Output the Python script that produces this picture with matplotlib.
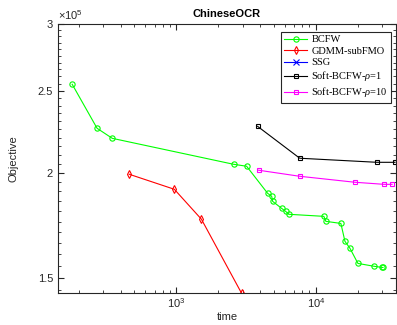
import matplotlib
matplotlib.use("Agg")
import matplotlib.pyplot as plt
import numpy as np
from matplotlib.ticker import FixedLocator, FuncFormatter, LogLocator, NullFormatter

plt.rcParams['font.family'] = ['Liberation Sans', 'DejaVu Sans']
plt.rcParams['mathtext.fontset'] = 'custom'
plt.rcParams['mathtext.rm'] = 'Liberation Sans'
plt.rcParams['mathtext.it'] = 'Liberation Serif:italic'
plt.rcParams['mathtext.bf'] = 'Liberation Sans:bold'

bcfw_t = [179, 270, 347, 2570, 3190, 4515, 4825, 4905, 5690, 6085, 6395,
          11420, 11800, 15130, 16180, 17570, 20050, 26140, 29850, 30340]
bcfw_y = [254500, 225700, 219600, 204600, 203500, 189000, 187500, 184900,
          181400, 179900, 178500, 177500, 175100, 174100, 165800, 162700,
          156100, 154900, 154400, 154400]
gdmm_t = [459, 967, 1513, 2935]
gdmm_y = [199100, 191100, 176100, 143900]
soft1_t = [3825, 7670, 27470, 37000]
soft1_y = [226900, 208000, 205700, 205700]
soft10_t = [3890, 7670, 19080, 30850, 35230]
soft10_y = [201300, 198000, 194800, 193700, 193700]

ytick_vals = [1.5e5, 2e5, 2.5e5, 3e5]

fig = plt.figure(figsize=(3.97, 3.25), dpi=100)
ax = fig.add_axes([58/397, 32/325, 338/397, 269/325])

ms = 3.8
ax.plot(bcfw_t, bcfw_y, color='#00ff00', marker='o', ms=ms, mfc='none', lw=0.8, mew=0.8, label='BCFW')
ax.plot(gdmm_t, gdmm_y, color='#ff0000', marker='d', ms=ms, mfc='none', lw=0.8, mew=0.8, label='GDMM-subFMO')
ax.plot([], [], color='#0000ff', marker='x', ms=ms, lw=0.8, mew=0.8, label='SSG')
ax.plot(soft1_t, soft1_y, color='#000000', marker='s', ms=3.3, mfc='none', lw=0.8, mew=0.8, label=r'Soft-BCFW-$\rho$=1')
ax.plot(soft10_t, soft10_y, color='#ff00ff', marker='s', ms=3.3, mfc='none', lw=0.8, mew=0.8, label=r'Soft-BCFW-$\rho$=10')

ax.set_xscale('log')
ax.set_yscale('log')
ax.set_xlim(141.6, 37600)
ax.set_ylim(1.44e5, 3e5)

ax.yaxis.set_major_locator(FixedLocator(ytick_vals))
ax.yaxis.set_major_formatter(FuncFormatter(lambda v, p: ('%g' % (v / 1e5))))
ax.yaxis.set_minor_locator(FixedLocator(np.arange(1.45e5, 3.0e5, 0.05e5)))
ax.yaxis.set_minor_formatter(NullFormatter())
ax.xaxis.set_major_locator(FixedLocator([1e3, 1e4]))
ax.xaxis.set_major_formatter(FuncFormatter(lambda v, p: r'$\mathrm{10}^{\mathrm{%d}}$' % int(round(np.log10(v)))))
ax.xaxis.set_minor_locator(LogLocator(base=10, subs=np.arange(2, 10)))
ax.xaxis.set_minor_formatter(NullFormatter())

tc = '#262626'
for s in ax.spines.values():
    s.set_color(tc)
    s.set_linewidth(0.8)
ax.tick_params(which='both', direction='in', top=True, right=True, colors=tc, labelsize=8)
ax.tick_params(which='major', length=4)
ax.tick_params(which='minor', length=2.5)
ax.tick_params(axis='x', which='major', pad=3)

ax.set_title('ChineseOCR', fontsize=8, fontweight='bold', pad=5)
ax.set_xlabel('time', fontsize=8, color=tc, labelpad=1)
ax.set_ylabel('Objective', fontsize=8, color=tc, labelpad=14)
ax.text(0.0, 1.008, r'$\times\mathrm{10}^{\mathrm{5}}$', transform=ax.transAxes, fontsize=8, color=tc,
        ha='left', va='bottom')

leg = ax.legend(loc='upper right', bbox_to_anchor=(0.985, 0.97), prop={'family': 'Liberation Serif', 'size': 7.5},
                fancybox=False, framealpha=1, edgecolor=tc, handlelength=2.2, borderpad=0.3,
                labelspacing=0.2, handletextpad=0.4, borderaxespad=0)
leg.get_frame().set_linewidth(0.8)

fig.savefig('out.png', dpi=100)
